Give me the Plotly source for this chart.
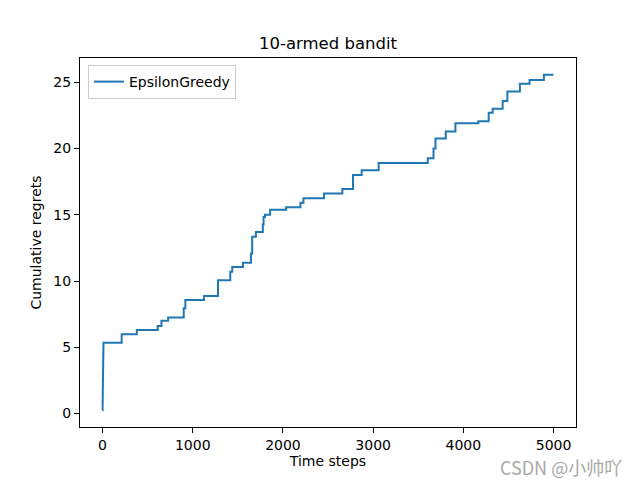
import plotly.graph_objects as go

# step start times and cumulative regret after each step
step_times = [0, 1, 2, 3, 4, 5, 6, 7, 8, 9, 10, 212, 380, 612, 653, 727, 900, 918, 1125, 1280,
              1416, 1438, 1556, 1645, 1659, 1700, 1777, 1785, 1800, 1858, 2035, 2194, 2227,
              2456, 2659, 2777, 2873, 3061, 3606, 3669, 3691, 3805, 3912, 4166, 4281, 4325,
              4436, 4488, 4627, 4734, 4893, 4999]
regrets = [0.25, 0.95, 1.5, 2.0, 2.5, 3.0, 3.5, 4.0, 4.5, 4.9, 5.35, 5.99, 6.3, 6.6, 7.0, 7.25, 7.95, 8.57, 8.87, 10.05,
           10.7, 11.05, 11.38, 12.08, 13.33, 13.7, 14.26, 14.83, 15.0, 15.37, 15.56, 15.9, 16.25,
           16.6, 16.95, 18.0, 18.35, 18.9, 19.27, 20.0, 20.75, 21.28, 21.9, 22.05, 22.7, 23.0,
           23.58, 24.3, 24.88, 25.16, 25.56, 25.56]

series_name = "EpsilonGreedy"
title = "10-armed bandit"
x_label = "Time steps"
y_label = "Cumulative regrets"
x_ticks = [0, 1000, 2000, 3000, 4000, 5000]
y_ticks = [0, 5, 10, 15, 20, 25]

font = "DejaVu Sans, Liberation Sans, sans-serif"

fig = go.Figure()
fig.add_trace(go.Scatter(x=step_times, y=regrets, mode="lines", line_shape="hv",
                         name=series_name, line=dict(color="#1f77b4", width=2)))

xr = [-250, 5249]
ymin, ymax = min(regrets), max(regrets)
pad = (ymax - ymin) * 0.05

axis_common = dict(showline=True, linecolor="black", linewidth=1, mirror=True,
                   ticks="outside", ticklen=5, tickcolor="black", tickwidth=1,
                   showgrid=False, zeroline=False,
                   tickfont=dict(family=font, size=14, color="black"))

# page body has an 8px offset, so margins are shifted accordingly
fig.update_layout(
    width=640, height=480,
    margin=dict(l=72, r=72, t=50, b=61),
    paper_bgcolor="white", plot_bgcolor="white",
    font=dict(family=font, size=14, color="black"),
    title=dict(text=title, x=(328 - 8) / 640, xanchor="center", y=1 - 35 / 480, yanchor="middle",
               font=dict(family=font, size=16.5, color="black")),
    xaxis=dict(range=xr, tickvals=x_ticks, ticktext=[str(v) for v in x_ticks],
               title=dict(text=x_label, font=dict(family=font, size=14, color="black"), standoff=4),
               **axis_common),
    yaxis=dict(range=[ymin - pad, ymax + pad], tickvals=y_ticks, ticktext=[str(v) for v in y_ticks],
               title=dict(text=y_label, font=dict(family=font, size=14, color="black"), standoff=8),
               **axis_common),
    showlegend=True,
    legend=dict(x=0.016, y=0.981, xanchor="left", yanchor="top",
                bgcolor="rgba(255,255,255,0.8)", bordercolor="#cccccc", borderwidth=1,
                font=dict(family=font, size=14, color="black")),
)

fig.add_annotation(text="CSDN @小帅吖", xref="paper", yref="paper",
                   x=(623 - 80) / 496, y=-(453 - 427) / 369, xanchor="right", yanchor="top",
                   showarrow=False, borderpad=0,
                   font=dict(family="Noto Sans CJK SC, sans-serif", size=18, color="#a8a8a8"))

fig.write_html("out.html")
